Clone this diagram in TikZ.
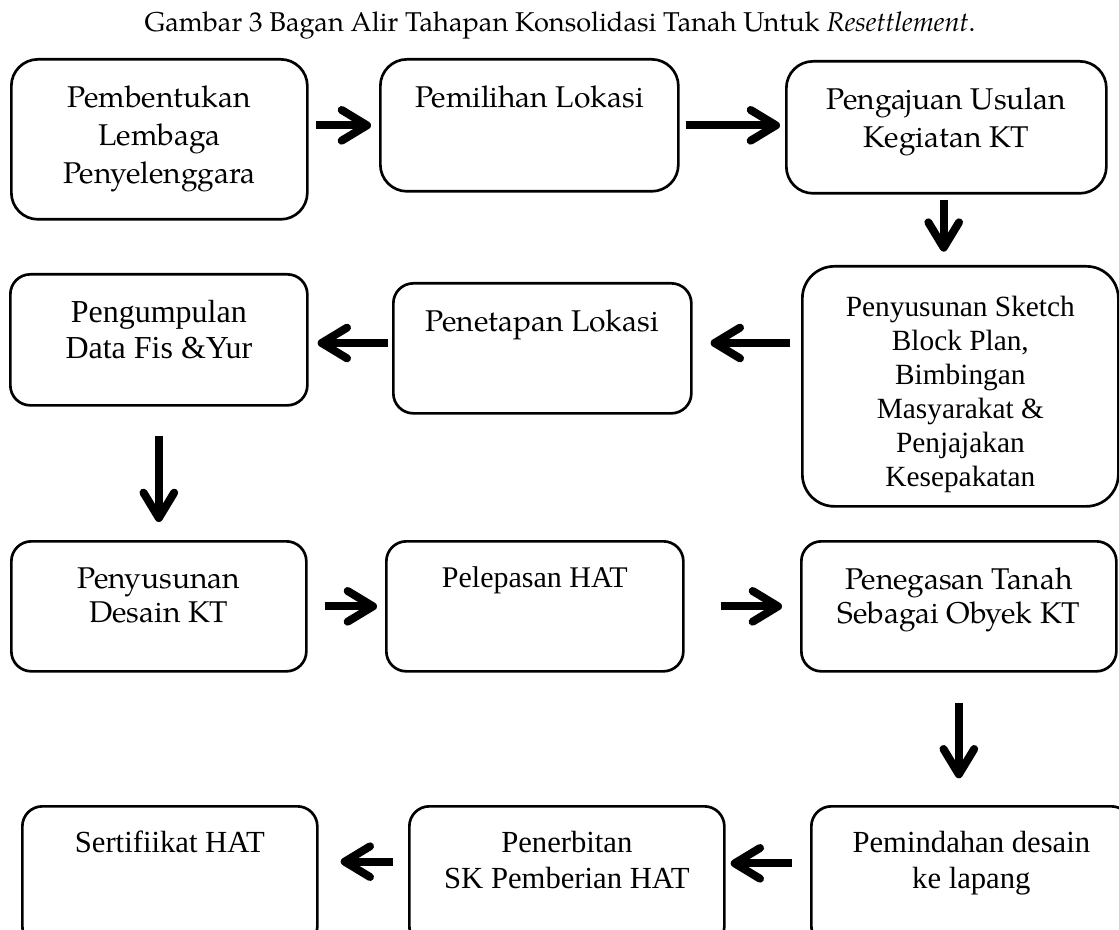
\documentclass[tikz,border=0pt]{standalone}
\usepackage{fontspec}
\setmainfont{TeX Gyre Pagella}
\newfontfamily\tms{Liberation Serif}
\usetikzlibrary{arrows.meta}
\newcommand{\bt}[5]{\parbox[c][#1][t]{#2}{#4\centering\vspace*{#3}#5\par}}
\begin{document}
\begin{tikzpicture}[x=0.75pt,y=-0.75pt,
  box/.style={draw, line width=2pt, rounded corners=15pt, inner sep=0pt, anchor=north west},
  arr/.style={line width=6pt, -{Straight Barb[length=19pt,width=23pt,round]}}]
\useasboundingbox[fill=white] (0,0) rectangle (1119,930);
\clip (0,0) rectangle (1119,930);
\node[font=\fontsize{20.4}{24}\selectfont] (title) at (560,25) {Gambar 3 Bagan Alir Tahapan Konsolidasi Tanah Untuk \textit{Resettlement}.};
% row 1
\node[box, rounded corners=20pt] (A) at (10,58) {\bt{120pt}{222pt}{20pt}{\fontsize{22.5}{28.5}\selectfont}{Pembentukan\\Lembaga\\Penyelenggara}};
\node[box, rounded corners=20pt] (B) at (379,58) {\bt{99pt}{223.5pt}{20pt}{\fontsize{22.5}{28.5}\selectfont}{Pemilihan Lokasi}};
\node[box, rounded corners=20pt] (C) at (785,60) {\bt{99pt}{240pt}{19.5pt}{\fontsize{22.5}{28.5}\selectfont}{Pengajuan Usulan\\Kegiatan KT}};
% row 2
\node[box] (D) at (9,273) {\bt{98.25pt}{222.75pt}{19.5pt}{\tms\fontsize{24}{27}\selectfont}{Pengumpulan\\Data Fis \&Yur}};
\node[box] (E) at (392,282) {\bt{97.5pt}{223.5pt}{19.5pt}{\fontsize{22.5}{27}\selectfont}{Penetapan Lokasi}};
\node[box, rounded corners=24pt] (F) at (801,265) {\bt{180pt}{237pt}{22.5pt}{\tms\fontsize{22}{25.5}\selectfont}{Penyusunan Sketch\\Block Plan,\\Bimbingan\\Masyarakat \&\\Penjajakan\\Kesepakatan}};
% row 3
\node[box] (G) at (10,540) {\bt{97.5pt}{221.25pt}{19.5pt}{\fontsize{22.5}{26}\selectfont}{Penyusunan\\Desain KT}};
\node[box] (H) at (385,540) {\bt{97.5pt}{222.75pt}{19pt}{\tms\fontsize{22.5}{27}\selectfont}{Pelepasan HAT}};
\node[box] (I) at (800,540) {\bt{97.5pt}{236.25pt}{19.5pt}{\fontsize{22.5}{26}\selectfont}{Penegasan Tanah\\Sebagai Obyek KT}};
% row 4
\node[box] (J) at (21,805) {\bt{105pt}{221.25pt}{18.5pt}{\tms\fontsize{23}{27}\selectfont}{Sertifiikat HAT}};
\node[box] (K) at (408,805) {\bt{105pt}{236.25pt}{18.5pt}{\tms\fontsize{23}{27}\selectfont}{Penerbitan\\SK Pemberian HAT}};
\node[box] (L) at (810,805) {\bt{105pt}{240pt}{18.5pt}{\tms\fontsize{23}{27}\selectfont}{Pemindahan desain\\ke lapang}};
% connectors
\draw[arr, shorten <=5.25pt, shorten >=6pt] (A.east |- B.west) -- (B.west);
\draw[arr, shorten <=4.5pt, shorten >=3.75pt] (B.east) -- (B.east -| C.west);
\draw[arr, shorten <=3.75pt, shorten >=10pt] ([xshift=-2pt]C.south) -- ([xshift=-2pt]C.south |- F.north);
\draw[arr, shorten <=8pt, shorten >=13.5pt] ([yshift=4pt]E.east -| F.west) -- ([yshift=4pt]E.east);
\draw[arr, shorten <=3pt, shorten >=6.75pt] ([yshift=4pt]E.west) -- ([yshift=4pt]E.west -| D.east);
\draw[arr, shorten <=21.75pt, shorten >=13.5pt] (D.south) -- (D.south |- G.north);
\draw[arr, shorten <=12.75pt, shorten >=6pt] (G.east) -- (H.west);
\draw[arr, shorten <=27pt, shorten >=13.5pt] (H.east) -- (I.west);
\draw[arr, shorten <=22.5pt, shorten >=20pt] (I.south) -- (I.south |- L.north);
\draw[arr, shorten <=13.5pt, shorten >=3.75pt] ([yshift=9.75pt]L.west) -- ([yshift=9.75pt]L.west -| K.east);
\draw[arr, shorten <=11.25pt, shorten >=16.5pt] ([yshift=11pt]K.west) -- ([yshift=11pt]K.west -| J.east);
\end{tikzpicture}
\end{document}
